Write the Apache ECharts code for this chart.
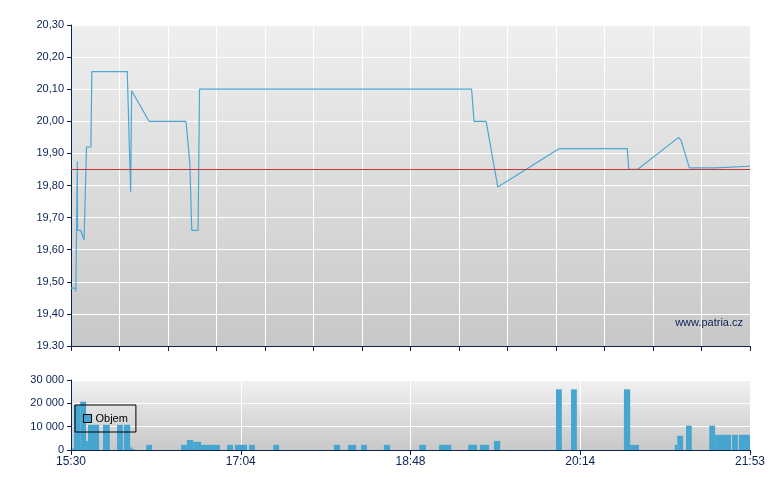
<!DOCTYPE html>
<html>
<head>
<meta charset="utf-8">
<script src="https://cdn.jsdelivr.net/npm/echarts@6/dist/echarts.min.js"></script>
<style>
  html, body { margin: 0; padding: 0; background: #fff; }
  #chart { width: 780px; height: 490px; }
</style>
</head>
<body>
<div id="chart"></div>
<script>
// session position runs 0..140 (14 grid columns)
const priceX = [0, 0.9, 1.0, 1.3, 1.35, 2.0, 2.3, 2.7, 3.2, 4.1, 4.3, 11.6, 12.3, 12.5, 16.1,
  23.7, 24.5, 24.9, 26.2, 26.5, 82.6, 83.1, 85.6, 88.0, 100.7, 114.7, 115.0, 116.8,
  125.3, 125.8, 127.5, 132.8, 133.1, 140];
const priceY = [19.48, 19.48, 19.47, 19.875, 19.66, 19.66, 19.655, 19.63, 19.92, 19.92, 20.155, 20.155, 19.78, 20.095, 20.00,
  20.00, 19.87, 19.66, 19.66, 20.10, 20.10, 20.00, 20.00, 19.795, 19.915, 19.915, 19.85, 19.85,
  19.95, 19.94, 19.855, 19.855, 19.86, 19.86];
const refPrice = 19.85;

const volStart = [0.3, 0.6, 1.9, 3.1, 3.5, 6.6, 9.5, 10.9, 12.2, 12.6, 15.5, 22.7, 23.9, 25.2, 26.8,
  32.2, 33.8, 36.7, 41.7, 54.2, 57.1, 59.8, 64.5, 71.8, 75.9, 81.9, 84.3, 87.2,
  100.0, 103.1, 114.0, 115.3, 124.5, 125.0, 126.8, 131.6, 132.8, 136.3, 137.7];
const volEnd = [0.6, 1.9, 3.1, 3.5, 5.8, 8.0, 10.7, 12.2, 12.6, 13.2, 16.7, 23.9, 25.2, 26.8, 30.7,
  33.4, 36.3, 37.9, 42.9, 55.5, 58.8, 61.0, 65.8, 73.2, 78.4, 83.7, 86.2, 88.5,
  101.2, 104.3, 115.3, 117.1, 125.0, 126.2, 128.0, 132.8, 136.1, 137.5, 140];
const volValue = [700, 19200, 20700, 3900, 10800, 10800, 10800, 10800, 1100, 300, 2200, 2200, 4300, 3500, 2200,
  2200, 2200, 2200, 2200, 2200, 2200, 2200, 2200, 2200, 2200, 2200, 2200, 3900,
  26000, 26000, 26000, 2200, 2200, 6100, 10400, 10400, 6500, 6500, 6500];

const priceTicks = ['19.30', '19,40', '19,50', '19,60', '19,70', '19,80', '19,90', '20,00', '20,10', '20,20', '20,30'];
const volTicks = ['0', '10 000', '20 000', '30 000'];
const timeTicks = ['15:30', '17:04', '18:48', '20:14', '21:53'];

const navy = '#0b2256';
const barColor = '#46a6d0';
const font = "'Liberation Sans', Arial, sans-serif";

const chart = echarts.init(document.getElementById('chart'), null, { renderer: 'canvas' });

const bgMain = new echarts.graphic.LinearGradient(0, 0, 0, 1, [
  { offset: 0, color: '#efefef' }, { offset: 1, color: '#c8c8c8' }]);
const bgVol = new echarts.graphic.LinearGradient(0, 0, 0, 1, [
  { offset: 0, color: '#f1f1f1' }, { offset: 1, color: '#c8c8c8' }]);

chart.setOption({
  animation: false,
  backgroundColor: '#fff',
  textStyle: { fontFamily: font },
  grid: [
    { left: 71, right: 30, top: 25, height: 321, show: true, backgroundColor: bgMain, borderWidth: 0 },
    { left: 71, right: 30, top: 380, height: 70, show: true, backgroundColor: bgVol, borderWidth: 0 }
  ],
  legend: {
    data: [{ name: 'Objem', icon: 'rect', itemStyle: { color: barColor, borderColor: '#000', borderWidth: 1 } }],
    left: 75, top: 405,
    padding: [8, 8, 8, 8],
    itemWidth: 8, itemHeight: 8, itemGap: 4,
    borderColor: '#000', borderWidth: 1,
    textStyle: { color: '#000', fontSize: 11, fontFamily: font, padding: [0, 0, 0, -1] },
    selectedMode: false
  },
  xAxis: [
    {
      type: 'value', gridIndex: 0, min: 0, max: 140, interval: 10,
      axisLine: { show: true, onZero: false, lineStyle: { color: navy } },
      axisTick: { show: true, length: 5, lineStyle: { color: navy } },
      axisLabel: { show: false },
      splitLine: { show: true, lineStyle: { color: '#ffffff', width: 1 } }
    },
    {
      type: 'value', gridIndex: 1, min: 0, max: 140, interval: 35,
      axisLine: { show: true, onZero: false, lineStyle: { color: navy } },
      axisTick: { show: true, length: 5, lineStyle: { color: navy } },
      axisLabel: {
        color: navy, fontSize: 12, fontFamily: font, margin: 6,
        formatter: v => timeTicks[Math.round(v / 35)]
      },
      splitLine: { show: true, lineStyle: { color: '#ffffff', width: 1 } }
    }
  ],
  yAxis: [
    {
      type: 'value', gridIndex: 0, min: 19.3, max: 20.3, interval: 0.1,
      axisLine: { show: true, lineStyle: { color: navy } },
      axisTick: { show: true, length: 4, lineStyle: { color: navy } },
      axisLabel: {
        color: navy, fontSize: 11, fontFamily: font, margin: 7,
        formatter: v => priceTicks[Math.round((v - 19.3) * 10)]
      },
      splitLine: { show: true, lineStyle: { color: '#ffffff', width: 1 } }
    },
    {
      type: 'value', gridIndex: 1, min: 0, max: 30000, interval: 10000,
      axisLine: { show: true, lineStyle: { color: navy } },
      axisTick: { show: true, length: 4, lineStyle: { color: navy } },
      axisLabel: {
        color: navy, fontSize: 11, fontFamily: font, margin: 7,
        formatter: v => volTicks[Math.round(v / 10000)]
      },
      splitLine: { show: true, lineStyle: { color: '#ffffff', width: 1 } }
    }
  ],
  graphic: [{
    type: 'text', right: 37, top: 317,
    style: { text: 'www.patria.cz', fill: navy, font: '11px ' + font }
  }],
  series: [
    {
      name: 'Cena', type: 'line', xAxisIndex: 0, yAxisIndex: 0,
      data: priceX.map((x, i) => [x, priceY[i]]),
      showSymbol: false, symbol: 'none',
      lineStyle: { color: '#4ba7d4', width: 1.2 },
      markLine: {
        silent: true, symbol: 'none', label: { show: false },
        lineStyle: { color: '#c43a32', width: 1, type: 'solid' },
        data: [{ yAxis: refPrice }]
      },
      z: 3
    },
    {
      name: 'Objem', type: 'custom', xAxisIndex: 1, yAxisIndex: 1,
      data: volStart.map((s, i) => [s, volEnd[i], volValue[i]]),
      encode: { x: [0, 1], y: 2 },
      itemStyle: { color: barColor },
      renderItem: (params, api) => {
        const top = api.coord([api.value(0), api.value(2)]);
        const bottom = api.coord([api.value(1), 0]);
        return {
          type: 'rect',
          shape: { x: top[0], y: top[1], width: bottom[0] - top[0], height: bottom[1] - top[1] },
          style: { fill: barColor }
        };
      },
      z: 2
    }
  ]
});
</script>
</body>
</html>
